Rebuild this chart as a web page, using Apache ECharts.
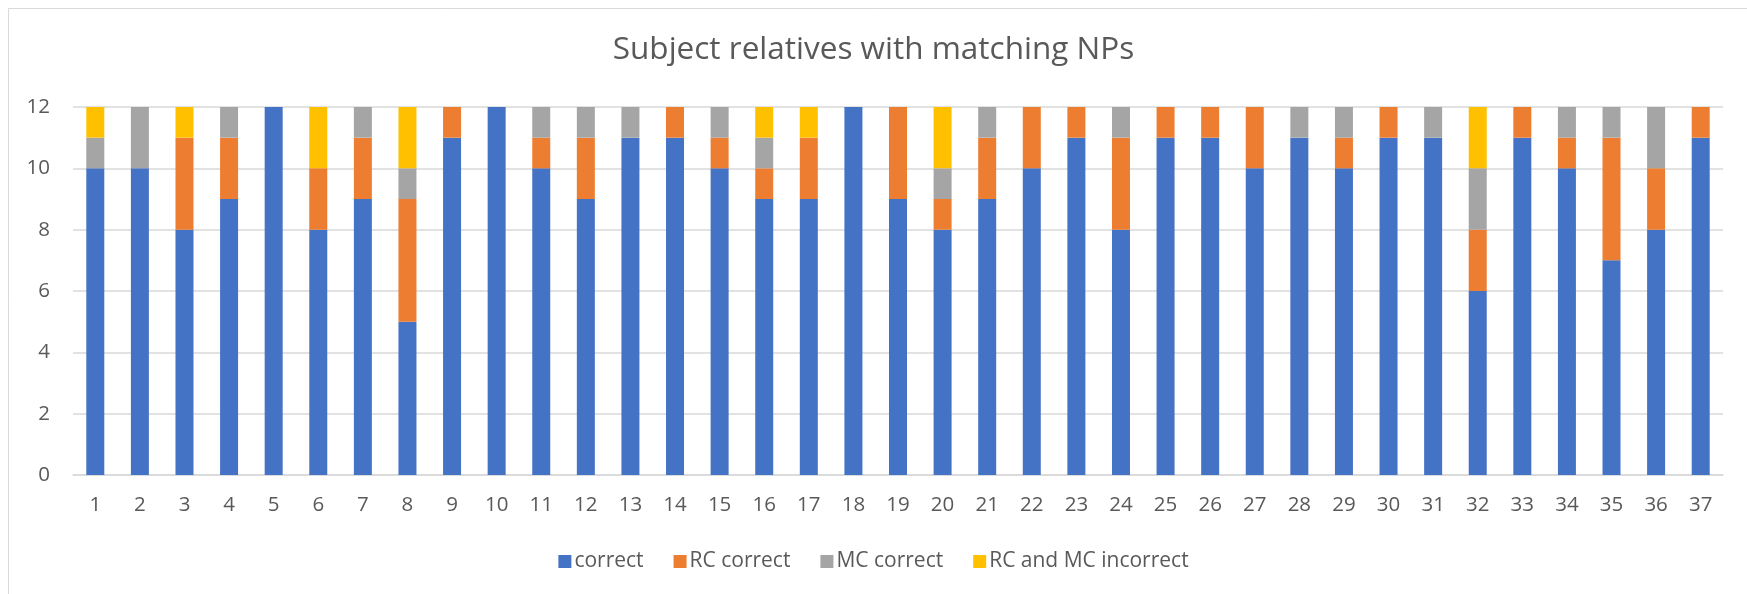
<!DOCTYPE html>
<html>
<head>
<meta charset="utf-8">
<script src="https://cdn.jsdelivr.net/npm/echarts@6/dist/echarts.min.js"></script>
<style>html,body{margin:0;padding:0;background:#fff}#c{width:1747px;height:594px}</style>
</head>
<body>
<div id="c"></div>
<script>
const categories = ['1','2','3','4','5','6','7','8','9','10','11','12','13','14','15','16','17','18','19','20','21','22','23','24','25','26','27','28','29','30','31','32','33','34','35','36','37'];
const correct      = [10,10,8,9,12,8,9,5,11,12,10,9,11,11,10,9,9,12,9,8,9,10,11,8,11,11,10,11,10,11,11,6,11,10,7,8,11];
const rcCorrect    = [0,0,3,2,0,2,2,4,1,0,1,2,0,1,1,1,2,0,3,1,2,2,1,3,1,1,2,0,1,1,0,2,1,1,4,2,1];
const mcCorrect    = [1,2,0,1,0,0,1,1,0,0,1,1,1,0,1,1,0,0,0,1,1,0,0,1,0,0,0,1,1,0,1,2,0,1,1,2,0];
const bothIncorrect= [1,0,1,0,0,2,0,2,0,0,0,0,0,0,0,1,1,0,0,2,0,0,0,0,0,0,0,0,0,0,0,2,0,0,0,0,0];
const seriesNames = ['correct','RC correct','MC correct','RC and MC incorrect'];
const yTicks = [0,2,4,6,8,10,12];

const FONT = 'Open Sans';
const colors = ['#4472C4','#ED7D31','#A5A5A5','#FFC000'];
const chart = echarts.init(document.getElementById('c'), null, {renderer:'canvas'});
const dataArr = [correct, rcCorrect, mcCorrect, bothIncorrect];
chart.setOption({
  animation:false,
  color: colors,
  graphic: [{type:'rect', shape:{x:8.5,y:8.5,width:1800,height:700}, style:{fill:null, stroke:'#D9D9D9', lineWidth:1}, silent:true, z:-1}],
  title: {text:'Subject relatives with matching NPs', left:'center', top:29,
    textStyle:{fontFamily:FONT, fontSize:31.5, fontWeight:'normal', color:'#595959'}},
  legend: {bottom:17, left:'center', itemWidth:13, itemHeight:13, itemGap:30, icon:'rect',
    textStyle:{fontFamily:FONT, fontSize:21, color:'#595959', padding:[0,0,0,-2]}},
  grid: {left:73, right:24, top:107, bottom:119, containLabel:false},
  xAxis: {type:'category', data:categories,
    axisLine:{lineStyle:{color:'#D9D9D9', width:1.5}}, axisTick:{show:false},
    axisLabel:{fontFamily:FONT, fontSize:20.5, color:'#595959', margin:20}},
  yAxis: {type:'value', min:yTicks[0], max:yTicks[yTicks.length-1], interval:2,
    axisLine:{show:false}, axisTick:{show:false},
    splitLine:{lineStyle:{color:'#D9D9D9', width:1.5}},
    axisLabel:{fontFamily:FONT, fontSize:20.5, color:'#595959', margin:23}},
  series: seriesNames.map((n,i)=>({name:n, type:'bar', stack:'a', data:dataArr[i], barWidth:18,
    itemStyle:{color:colors[i]}}))
});
</script>
</body>
</html>
